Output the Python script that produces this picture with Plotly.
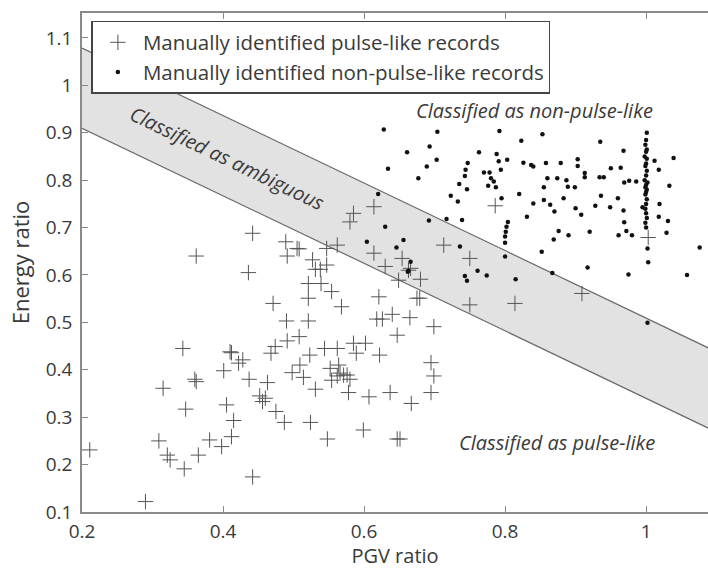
import plotly.graph_objects as go

# ---- data ----
pulse_x = [0.614,0.585,0.580,0.442,0.362,0.489,0.505,0.508,0.491,0.547,0.562,0.614,0.654,0.630,0.649,0.675,
           0.527,0.547,0.531,0.538,0.436,0.521,0.539,0.554,0.521,0.471,0.568,0.621,0.490,0.521,0.618,0.626,
           0.640,0.665,0.647,0.508,0.491,0.474,0.468,0.523,0.544,0.562,0.585,0.602,0.589,0.622,0.343,0.410,
           0.412,0.428,0.422,0.401,0.509,0.498,0.552,0.564,0.566,0.576,0.360,0.362,
           0.315,0.437,0.463,0.514,0.531,0.554,0.562,0.571,0.580,0.578,0.607,0.637,0.667,0.452,0.460,0.456,
           0.405,0.415,0.412,0.398,0.381,0.347,0.309,0.321,0.325,0.345,0.365,0.475,0.487,0.524,0.548,0.599,
           0.647,0.651,0.442,0.290,0.211,
           0.786,0.713,0.750,0.666,0.680,0.679,0.750,0.814,0.909,1.003,0.699,0.695,0.699,0.695,0.663]
pulse_y = [0.744,0.730,0.712,0.688,0.640,0.670,0.656,0.655,0.640,0.656,0.663,0.646,0.635,0.618,0.589,0.551,
           0.632,0.621,0.612,0.612,0.605,0.582,0.582,0.565,0.551,0.540,0.533,0.554,0.503,0.503,0.507,0.507,
           0.517,0.510,0.473,0.470,0.461,0.449,0.435,0.431,0.445,0.445,0.456,0.456,0.435,0.431,0.445,0.438,
           0.436,0.421,0.414,0.398,0.410,0.394,0.403,0.410,0.393,0.389,0.380,0.375,
           0.361,0.380,0.373,0.384,0.359,0.378,0.387,0.389,0.380,0.352,0.343,0.352,0.329,0.345,0.340,0.333,
           0.326,0.293,0.259,0.238,0.252,0.317,0.250,0.220,0.210,0.191,0.220,0.312,0.289,0.289,0.254,0.273,
           0.254,0.254,0.174,0.122,0.231,
           0.746,0.663,0.635,0.614,0.591,0.551,0.537,0.540,0.561,0.679,0.491,0.415,0.387,0.352,0.610]

nonpulse_x = [0.628,0.704,0.792,0.853,0.823,0.935,1.001,0.693,0.661,0.763,0.788,0.968,1.039,0.634,0.689,0.703,
              0.677,0.747,0.744,0.743,0.770,0.778,0.780,0.791,0.803,0.794,0.784,0.776,0.787,0.735,0.746,0.826,
              0.837,0.840,0.858,0.879,0.903,0.903,0.913,0.913,0.950,0.964,0.860,0.874,0.887,0.855,0.889,0.899,
              0.934,0.940,0.969,0.976,0.986,0.723,0.733,0.795,0.820,0.840,0.855,0.864,0.870,0.883,0.900,0.908,
              0.928,0.936,0.949,0.960,0.968,0.995,1.019,1.033,1.018,1.012,0.692,0.717,0.739,0.831,0.804,0.802,
              0.801,0.800,0.800,0.800,0.876,0.869,0.890,0.920,0.961,0.969,0.972,0.980,1.018,1.031,1.029,0.852,
              0.917,1.002,1.003,1.076,1.058,0.975,0.867,0.815,0.774,0.761,0.743,0.746,0.736,0.666,0.656,0.646,
              0.630,0.662,0.620,0.604,0.663,1.002,
              1.000,0.999,1.001,1.000,0.998,1.001,1.000,0.999,1.001,1.000,0.998,1.002,1.000,0.999,1.001,1.000,
              0.999,1.001,1.000,0.999,1.000,1.001,0.999,1.000]
nonpulse_y = [0.907,0.902,0.904,0.897,0.883,0.881,0.900,0.871,0.859,0.859,0.855,0.862,0.847,0.824,0.829,0.843,
              0.804,0.836,0.822,0.809,0.816,0.816,0.804,0.840,0.843,0.822,0.797,0.788,0.785,0.792,0.781,0.837,
              0.832,0.829,0.836,0.836,0.844,0.830,0.815,0.806,0.825,0.826,0.804,0.804,0.800,0.785,0.786,0.785,
              0.806,0.806,0.795,0.799,0.797,0.767,0.755,0.762,0.771,0.751,0.758,0.748,0.734,0.762,0.741,0.727,
              0.746,0.767,0.743,0.762,0.736,0.743,0.750,0.788,0.822,0.841,0.715,0.718,0.716,0.723,0.712,0.702,
              0.691,0.681,0.668,0.639,0.693,0.675,0.684,0.691,0.684,0.711,0.693,0.684,0.723,0.714,0.689,0.649,
              0.616,0.656,0.627,0.658,0.600,0.601,0.604,0.591,0.599,0.609,0.598,0.588,0.660,0.628,0.674,0.658,
              0.702,0.607,0.771,0.670,0.609,0.499,
              0.885,0.875,0.865,0.860,0.850,0.845,0.835,0.830,0.820,0.810,0.800,0.795,0.790,0.785,0.780,0.775,
              0.770,0.760,0.750,0.740,0.730,0.720,0.710,0.700]

# classification boundary lines (endpoints)
band_x = [0.2, 1.1]
band_upper = [1.0788, 0.4378]
band_lower = [0.9095, 0.2685]

x_ticks = [0.2, 0.4, 0.6, 0.8, 1.0]
x_ticktext = ["0.2", "0.4", "0.6", "0.8", "1"]
y_ticks = [0.1, 0.2, 0.3, 0.4, 0.5, 0.6, 0.7, 0.8, 0.9, 1.0, 1.1]
y_ticktext = ["0.1", "0.2", "0.3", "0.4", "0.5", "0.6", "0.7", "0.8", "0.9", "1", "1.1"]

FONT = "Open Sans"
TXT = "#3a3a3a"

fig = go.Figure()

fig.add_trace(go.Scatter(x=band_x, y=band_lower, mode="lines",
                         line=dict(color="#6a6a6a", width=1.2), showlegend=False, hoverinfo="skip"))
fig.add_trace(go.Scatter(x=band_x, y=band_upper, mode="lines", fill="tonexty",
                         fillcolor="#e2e2e2",
                         line=dict(color="#6a6a6a", width=1.2), showlegend=False, hoverinfo="skip"))

fig.add_trace(go.Scatter(x=pulse_x, y=pulse_y, mode="markers",
                         name="Manually identified pulse-like records",
                         marker=dict(symbol="cross-thin-open", size=11,
                                     line=dict(color="#555555", width=1), color="#555555")))
fig.add_trace(go.Scatter(x=nonpulse_x, y=nonpulse_y, mode="markers",
                         name="Manually identified non-pulse-like records",
                         marker=dict(symbol="circle", size=4.5, color="#111111")))

fig.add_annotation(x=0.842, y=0.948, text="Classified as non-pulse-like", showarrow=False,
                   font=dict(family=FONT, size=20, color=TXT, style="italic"))
fig.add_annotation(x=0.874, y=0.246, text="Classified as pulse-like", showarrow=False,
                   font=dict(family=FONT, size=20, color=TXT, style="italic"))
fig.add_annotation(x=0.407, y=0.846, text="Classified as ambiguous", showarrow=False,
                   textangle=25.6,
                   font=dict(family=FONT, size=20, color=TXT, style="italic"))

fig.update_layout(
    width=708, height=569,
    margin=dict(l=82, r=0, t=13, b=57),
    paper_bgcolor="white", plot_bgcolor="white",
    font=dict(family=FONT, size=19, color=TXT),
    showlegend=True,
    legend=dict(x=0.015, y=0.984, xanchor="left", yanchor="top",
                bgcolor="white", bordercolor="#444444", borderwidth=1.5,
                font=dict(family=FONT, size=20.5, color=TXT),
                traceorder="normal",
                itemwidth=40, tracegroupgap=0),
    xaxis=dict(range=[0.2, 1.0878], tickvals=x_ticks, ticktext=x_ticktext,
               showgrid=False, zeroline=False, showline=True, linecolor="#8a8a8a", linewidth=1.5,
               mirror="ticks", ticks="inside", ticklen=6, tickcolor="#8a8a8a",
               ticklabelstandoff=1, automargin=False,
               title=dict(text="PGV ratio", font=dict(size=20), standoff=14),
               tickfont=dict(size=19)),
    yaxis=dict(range=[0.1, 1.1527], tickvals=y_ticks, ticktext=y_ticktext,
               showgrid=False, zeroline=False, showline=True, linecolor="#8a8a8a", linewidth=1.5,
               ticks="inside", ticklen=6, tickcolor="#8a8a8a",
               ticklabelstandoff=4, automargin=False,
               title=dict(text="Energy ratio", font=dict(size=22), standoff=10),
               tickfont=dict(size=19)),
)

fig.write_html("out.html")
